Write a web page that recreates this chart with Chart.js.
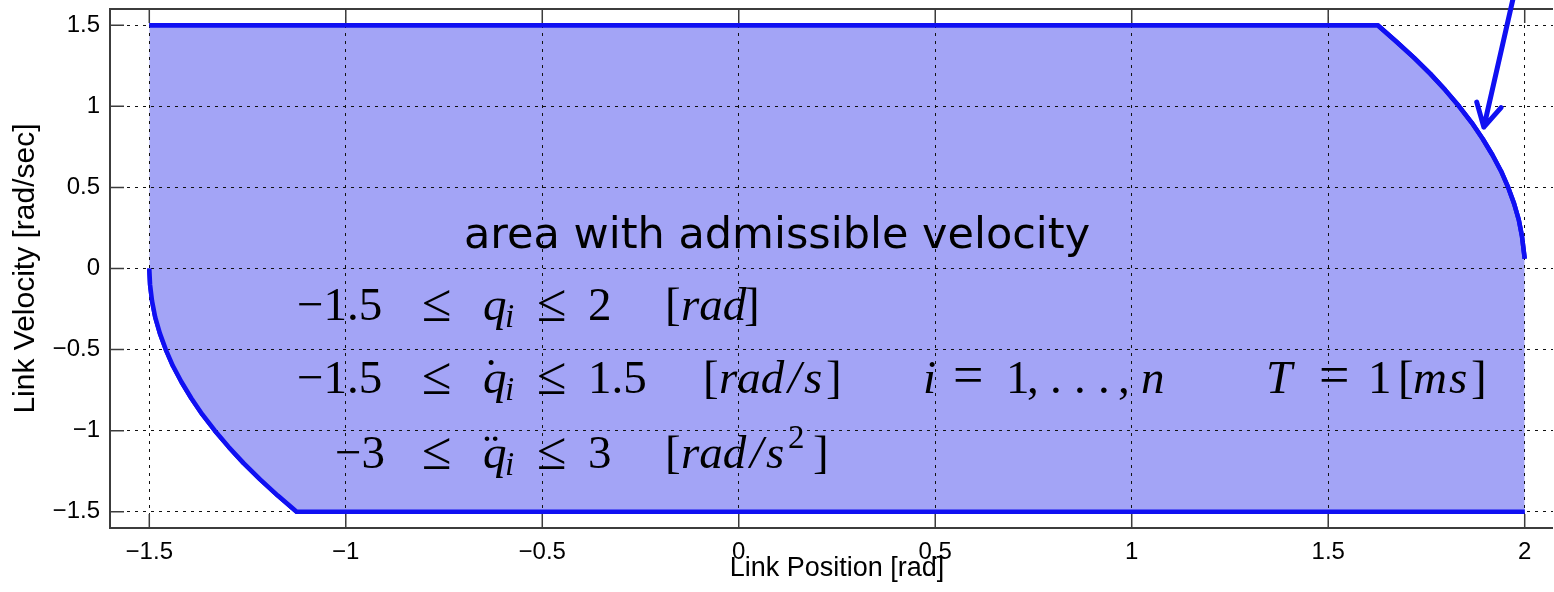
<!DOCTYPE html>
<html>
<head>
<meta charset="utf-8">
<script src="https://cdn.jsdelivr.net/npm/chart.js@4.4.1/dist/chart.umd.min.js"></script>
<style>
  html, body { margin: 0; padding: 0; background: #fff; overflow: hidden; }
  #wrap { width: 1553px; height: 592px; overflow: hidden; }
  canvas { display: block; }
</style>
</head>
<body>
<div id="wrap"><canvas id="chart" width="1564" height="592"></canvas></div>
<script>
const xTicks = [-1.5, -1, -0.5, 0, 0.5, 1, 1.5, 2];
const yTicks = [-1.5, -1, -0.5, 0, 0.5, 1, 1.5];

// upper edge: velocity limit, then the braking curve down to the position limit
const upperX = [-1.5, 1.626, 1.673, 1.718, 1.76, 1.798, 1.833, 1.865, 1.893, 1.918, 1.94, 1.958, 1.973, 1.985, 1.993, 1.998, 2.0];
const upperY = [1.5, 1.5, 1.4, 1.3, 1.2, 1.1, 1.0, 0.9, 0.8, 0.7, 0.6, 0.5, 0.4, 0.3, 0.2, 0.1, 0.06];

// lower edge: acceleration curve from the lower position limit, then the -1.5 limit
const lowerX = [-1.5, -1.498, -1.493, -1.485, -1.473, -1.458, -1.44, -1.418, -1.393, -1.365, -1.333, -1.298, -1.26, -1.218, -1.173, -1.125, 2.0];
const lowerY = [0, -0.1, -0.2, -0.3, -0.4, -0.5, -0.6, -0.7, -0.8, -0.9, -1.0, -1.1, -1.2, -1.3, -1.4, -1.5, -1.5];

// arrow: tail (off the top) and tip
const arrowX = [1.970, 1.896];
const arrowY = [1.66, 0.872];

const X_MIN = -1.6;
const X_MAX = 2.1; // the axes run a little past the right edge of the picture

const FILL = '#a3a4f6';
const EDGE = '#1010f2';
const AXIS = '#3c3c3c';
const SANS = 'Liberation Sans';
const SERIF = 'Liberation Serif';
const MATH = 47;

// text layout of the constraint block: [text, x, baseline, kind]
const mathText = [
  ['\u22121.5', 297, 320, 'r'], ['\u2264', 422, 321, 'o'], ['q', 483, 320, 'i'], ['i', 505, 327, 's'],
  ['\u2264', 537, 321, 'o'], ['2', 588, 320, 'r'], ['[', 665, 320, 'r'], ['rad', 681, 320, 'i'], [']', 744, 320, 'r'],

  ['\u22121.5', 297, 393, 'r'], ['\u2264', 422, 394, 'o'], ['q', 483, 393, 'i'], ['\u02D9', 491, 391, 'a'],
  ['i', 505, 400, 's'], ['\u2264', 537, 394, 'o'], ['1.5', 588, 393, 'r'],
  ['[', 703, 393, 'r'], ['rad', 719, 393, 'i'], ['/', 788, 393, 'i'], ['s', 804, 393, 'i'], [']', 826, 393, 'r'],
  ['i', 923, 393, 'i'], ['=', 953, 393, 'o'], ['1', 1006, 393, 'r'], [',', 1027, 393, 'r'],
  ['.', 1050, 393, 'r'], ['.', 1074, 393, 'r'], ['.', 1098, 393, 'r'], [',', 1118, 393, 'r'], ['n', 1141, 393, 'i'],
  ['T', 1266, 393, 'i'], ['=', 1319, 393, 'o'], ['1', 1368, 393, 'r'], ['[', 1398, 393, 'r'],
  ['m', 1413, 393, 'i'], ['s', 1449, 393, 'i'], [']', 1471, 393, 'r'],

  ['\u22123', 335, 468, 'r'], ['\u2264', 422, 469, 'o'], ['q', 483, 468, 'i'], ['\u00A8', 491, 466, 'a'],
  ['i', 505, 475, 's'], ['\u2264', 537, 469, 'o'], ['3', 588, 468, 'r'],
  ['[', 665, 468, 'r'], ['rad', 681, 468, 'i'], ['/', 750, 468, 'i'], ['s', 766, 468, 'i'],
  ['2', 788, 448, 'p'], [']', 813, 468, 'r'],
];

const pts = (xs, ys) => xs.map((x, i) => ({ x, y: ys[i] }));
const fmt = (v) => String(v).replace('-', '\u2212');
const fixTicks = (list) => (scale) => { scale.ticks = list.map((value) => ({ value })); };

function fontFor(kind) {
  if (kind === 'i') return `italic ${MATH}px "${SERIF}"`;
  if (kind === 's') return `italic 33px "${SERIF}"`;
  if (kind === 'p') return `33px "${SERIF}"`;
  if (kind === 'o') return `54px "${SERIF}"`;
  return `${MATH}px "${SERIF}"`;
}

const overlay = {
  id: 'overlay',
  afterDraw(chart) {
    const { ctx, chartArea: a } = chart;
    const x = chart.scales.x;
    const y = chart.scales.y;

    // put the boundary lines back over the dotted grid
    ctx.save();
    ctx.beginPath();
    ctx.rect(a.left, a.top, a.right - a.left, a.bottom - a.top);
    ctx.clip();
    chart.data.datasets.forEach((d, i) => chart.getDatasetMeta(i).dataset.draw(ctx, a));
    ctx.restore();

    // inward tick marks
    ctx.save();
    ctx.strokeStyle = AXIS;
    ctx.lineWidth = 1.5;
    ctx.beginPath();
    x.ticks.forEach((t) => {
      const p = x.getPixelForValue(t.value);
      ctx.moveTo(p, a.bottom); ctx.lineTo(p, a.bottom - 14);
      ctx.moveTo(p, a.top); ctx.lineTo(p, a.top + 14);
    });
    y.ticks.forEach((t) => {
      const p = y.getPixelForValue(t.value);
      ctx.moveTo(a.left, p); ctx.lineTo(a.left + 14, p);
    });
    ctx.stroke();
    ctx.restore();

    // annotations
    ctx.save();
    ctx.fillStyle = '#000';
    ctx.textBaseline = 'alphabetic';
    ctx.font = '43px "DejaVu Sans"';
    ctx.fillText('area with admissible velocity', 464, 248);
    mathText.forEach(([t, px, py, kind]) => {
      ctx.font = fontFor(kind);
      ctx.textAlign = kind === 'a' ? 'center' : 'left';
      ctx.fillText(t, px, py);
    });
    ctx.restore();

    // arrow
    const x0 = x.getPixelForValue(arrowX[0]);
    const y0 = y.getPixelForValue(arrowY[0]);
    const x1 = x.getPixelForValue(arrowX[1]);
    const y1 = y.getPixelForValue(arrowY[1]);
    const ang = Math.atan2(y0 - y1, x0 - x1);
    const len = 26;
    ctx.save();
    ctx.strokeStyle = EDGE;
    ctx.lineWidth = 5;
    ctx.lineCap = 'round';
    ctx.lineJoin = 'round';
    ctx.beginPath();
    ctx.moveTo(x0, y0);
    ctx.lineTo(x1, y1);
    ctx.moveTo(x1 + len * Math.cos(ang + 0.5), y1 + len * Math.sin(ang + 0.5));
    ctx.lineTo(x1, y1);
    ctx.lineTo(x1 + len * Math.cos(ang - 0.5), y1 + len * Math.sin(ang - 0.5));
    ctx.stroke();
    ctx.restore();
  },
};

new Chart(document.getElementById('chart'), {
  type: 'line',
  data: {
    datasets: [
      {
        label: 'upper',
        data: pts(upperX, upperY),
        fill: '+1',
        backgroundColor: FILL,
        borderColor: EDGE,
        borderWidth: 4.5,
        borderJoinStyle: 'round',
        pointRadius: 0,
        tension: 0,
      },
      {
        label: 'lower',
        data: pts(lowerX, lowerY),
        fill: false,
        borderColor: EDGE,
        borderWidth: 4.5,
        borderJoinStyle: 'round',
        pointRadius: 0,
        tension: 0,
      },
    ],
  },
  options: {
    responsive: false,
    animation: false,
    devicePixelRatio: 1,
    layout: { padding: 0 },
    plugins: {
      legend: { display: false },
      tooltip: { enabled: false },
    },
    scales: {
      x: {
        type: 'linear',
        position: 'bottom',
        min: X_MIN,
        max: X_MAX,
        afterBuildTicks: fixTicks(xTicks),
        afterFit: (s) => { s.height = 64; s.paddingLeft = 0; s.paddingRight = 0; },
        grid: { color: '#111', lineWidth: 1, drawTicks: false, z: 1 },
        border: { display: true, color: AXIS, width: 2, dash: [3, 5], z: 1 },
        ticks: {
          callback: fmt,
          padding: 10,
          color: '#000',
          autoSkip: false,
          maxRotation: 0,
          font: { family: SANS, size: 24 },
        },
        title: {
          display: true,
          text: 'Link Position [rad]',
          color: '#000',
          font: { family: SANS, size: 27 },
          padding: { top: 0, bottom: 7 },
        },
      },
      x2: {
        type: 'linear',
        position: 'top',
        min: X_MIN,
        max: X_MAX,
        afterFit: (s) => { s.height = 9; s.paddingLeft = 0; s.paddingRight = 0; },
        grid: { display: false },
        ticks: { display: false },
        border: { display: true, color: AXIS, width: 2 },
      },
      y: {
        type: 'linear',
        position: 'left',
        min: -1.6,
        max: 1.6,
        afterBuildTicks: fixTicks(yTicks),
        afterFit: (s) => { s.width = 110; s.paddingTop = 0; s.paddingBottom = 0; },
        grid: { color: '#111', lineWidth: 1, drawTicks: false, z: 1 },
        border: { display: true, color: AXIS, width: 2, dash: [3, 5], z: 1 },
        ticks: {
          callback: fmt,
          padding: 10,
          color: '#000',
          autoSkip: false,
          font: { family: SANS, size: 24 },
        },
        title: {
          display: true,
          text: 'Link Velocity [rad/sec]',
          color: '#000',
          font: { family: SANS, size: 30 },
          padding: { top: 8, bottom: 0 },
        },
      },
    },
  },
  plugins: [overlay],
});
</script>
</body>
</html>
